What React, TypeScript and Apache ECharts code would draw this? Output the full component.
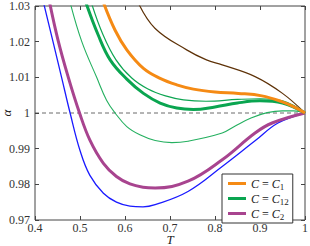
import React, { useEffect, useRef } from "react";
import * as echarts from "echarts";

// Temperature T and ratio alpha for each curve
const blueT = [0.415, 0.44, 0.46, 0.478, 0.5, 0.522, 0.552, 0.581, 0.611, 0.64, 0.667, 0.74, 0.816, 0.889, 0.94, 1.0];
const blueA = [1.033, 1.02, 1.0095, 1.0, 0.9895, 0.9825, 0.9775, 0.975, 0.9739, 0.9737, 0.9743, 0.978, 0.985, 0.9922, 0.9972, 1.0];

const c2T = [0.43, 0.451, 0.474, 0.499, 0.522, 0.552, 0.581, 0.611, 0.64, 0.667, 0.74, 0.816, 0.889, 0.927, 1.0];
const c2A = [1.0325, 1.0205, 1.01, 1.0, 0.9924, 0.9859, 0.9822, 0.9801, 0.9792, 0.979, 0.9809, 0.9869, 0.9944, 0.9972, 1.0];

const gLowT = [0.478, 0.504, 0.537, 0.559, 0.578, 0.604, 0.633, 0.667, 0.704, 0.74, 0.816, 0.844, 0.88, 0.916, 0.95, 0.975, 1.0];
const gLowA = [1.031, 1.02, 1.01, 1.0036, 1.0, 0.9962, 0.9939, 0.9923, 0.9917, 0.9921, 0.9944, 0.9963, 0.9986, 1.0001, 1.0006, 1.0006, 1.0];

const c12T = [0.513, 0.54, 0.567, 0.604, 0.641, 0.678, 0.715, 0.752, 0.8, 0.85, 0.9, 0.95, 1.0];
const c12A = [1.031, 1.022, 1.0149, 1.0095, 1.0055, 1.0028, 1.0014, 1.001, 1.0017, 1.0028, 1.0034, 1.0028, 1.0];

const gHighT = [0.525, 0.55, 0.58, 0.615, 0.65, 0.69, 0.73, 0.78, 0.85, 0.9, 0.95, 1.0];
const gHighA = [1.031, 1.0223, 1.0149, 1.0098, 1.0068, 1.0048, 1.0037, 1.0033, 1.0038, 1.004, 1.0034, 1.0];

const c1T = [0.552, 0.578, 0.604, 0.641, 0.678, 0.715, 0.752, 0.8, 0.852, 0.904, 0.948, 0.978, 1.0];
const c1A = [1.031, 1.0232, 1.0177, 1.0125, 1.0097, 1.0079, 1.0067, 1.0059, 1.0055, 1.0048, 1.0032, 1.0016, 1.0];

const brownT = [0.629, 0.667, 0.737, 0.781, 0.816, 0.889, 0.95, 1.0];
const brownA = [1.031, 1.0237, 1.0177, 1.0149, 1.0135, 1.0102, 1.0055, 1.0];

const refT = [0.4, 1.0];
const refA = [1.0, 1.0];

const xTicks = { min: 0.4, max: 1.0, step: 0.1 };
const yTicks = { min: 0.97, max: 1.03, step: 0.01 };

const legendNames = ["C1", "C12", "C2"];
const legendLabels: Record<string, string> = {
  C1: "{i|C} = {i|C}{s|1}",
  C12: "{i|C} = {i|C}{s|12}",
  C2: "{i|C} = {i|C}{s|2}",
};

const zip = (a: number[], b: number[]) => a.map((v, i) => [v, b[i]]);

const SERIF = "Liberation Serif, DejaVu Serif, serif";

export default function App() {
  const ref = useRef<HTMLDivElement>(null);
  useEffect(() => {
    if (!ref.current) return;
    const chart = echarts.init(ref.current, null, { renderer: "svg" });
    const line = (name: string, t: number[], a: number[], color: string, width: number, z = 3) => ({
      name,
      type: "line",
      data: zip(t, a),
      showSymbol: false,
      smooth: 0.4,
      lineStyle: { color, width },
      itemStyle: { color },
      z,
      silent: true,
    });
    const tickAxisX = (pos: string, showLabel: boolean, extra: any = {}) => ({
      type: "value",
      position: pos,
      min: xTicks.min,
      max: xTicks.max,
      interval: xTicks.step,
      axisLine: { show: false },
      axisTick: { show: true, inside: true, length: 4, lineStyle: { color: "#444", width: 1 } },
      splitLine: { show: false },
      axisLabel: {
        show: showLabel,
        margin: 3,
        lineHeight: 10,
        fontFamily: SERIF,
        fontSize: 12,
        color: "#333",
        formatter: (v: number) => (Math.abs(v - 1) < 1e-9 ? "1" : v.toFixed(1)),
      },
      ...extra,
    });
    const tickAxisY = (pos: string, showLabel: boolean, extra: any = {}) => ({
      type: "value",
      position: pos,
      min: yTicks.min,
      max: yTicks.max,
      interval: yTicks.step,
      axisLine: { show: false },
      axisTick: { show: true, inside: true, length: 4, lineStyle: { color: "#444", width: 1 } },
      splitLine: { show: false },
      axisLabel: {
        show: showLabel,
        margin: 5,
        fontFamily: SERIF,
        fontSize: 12,
        color: "#333",
        formatter: (v: number) => (Math.abs(v - 1) < 1e-9 ? "1" : v.toFixed(2)),
      },
      ...extra,
    });
    chart.setOption({
      animation: false,
      grid: {
        left: 35,
        right: 5,
        top: 6,
        bottom: 26,
        outerBoundsMode: "none",
        containLabel: false,
        show: true,
        borderColor: "#444",
        borderWidth: 1,
        backgroundColor: "transparent",
      },
      xAxis: [
        tickAxisX("bottom", true, {
          name: "T",
          nameLocation: "middle",
          nameGap: 14,
          nameMoveOverlap: false,
          nameTextStyle: { fontFamily: SERIF, fontStyle: "italic", fontSize: 13, lineHeight: 10, color: "#222" },
        }),
        tickAxisX("top", false),
      ],
      yAxis: [
        tickAxisY("left", true, {
          name: "α",
          nameLocation: "middle",
          nameGap: 22,
          nameRotate: 90,
          nameMoveOverlap: false,
          nameTextStyle: { fontFamily: SERIF, fontStyle: "italic", fontSize: 13, color: "#222" },
        }),
        tickAxisY("right", false),
      ],
      legend: {
        data: legendNames,
        orient: "vertical",
        left: 222,
        top: 174,
        backgroundColor: "#fff",
        borderColor: "#333",
        borderWidth: 1,
        borderRadius: 0,
        padding: [2, 4, 2, 6],
        itemGap: 0,
        itemWidth: 18,
        itemHeight: 3,
        icon: "rect",
        selectedMode: false,
        formatter: (n: string) => legendLabels[n] || n,
        textStyle: {
          fontFamily: SERIF,
          fontSize: 12,
          color: "#222",
          lineHeight: 13,
          rich: {
            i: { fontFamily: SERIF, fontStyle: "italic", fontSize: 12, color: "#222", lineHeight: 13 },
            s: { fontFamily: SERIF, fontSize: 9, color: "#222", lineHeight: 13, padding: [6, 0, 0, 0] },
          },
        },
        z: 10,
      },
      series: [
        {
          name: "ref",
          type: "line",
          data: zip(refT, refA),
          showSymbol: false,
          lineStyle: { color: "#444", width: 0.8, type: [4, 3] },
          z: 1,
          silent: true,
        },
        line("blue", blueT, blueA, "#1a1aff", 1.3),
        line("brown", brownT, brownA, "#5e3208", 1.2),
        line("gLow", gLowT, gLowA, "#25b060", 1.1),
        line("gHigh", gHighT, gHighA, "#0ea552", 1.2),
        line("C2", c2T, c2A, "#a8448f", 3),
        line("C12", c12T, c12A, "#0aa550", 3),
        line("C1", c1T, c1A, "#f58a14", 3),
      ],
    });
    return () => chart.dispose();
  }, []);
  return (
    <div
      ref={ref}
      style={{ position: "fixed", left: 0, top: 0, width: 310, height: 246, background: "#fff" }}
    />
  );
}
